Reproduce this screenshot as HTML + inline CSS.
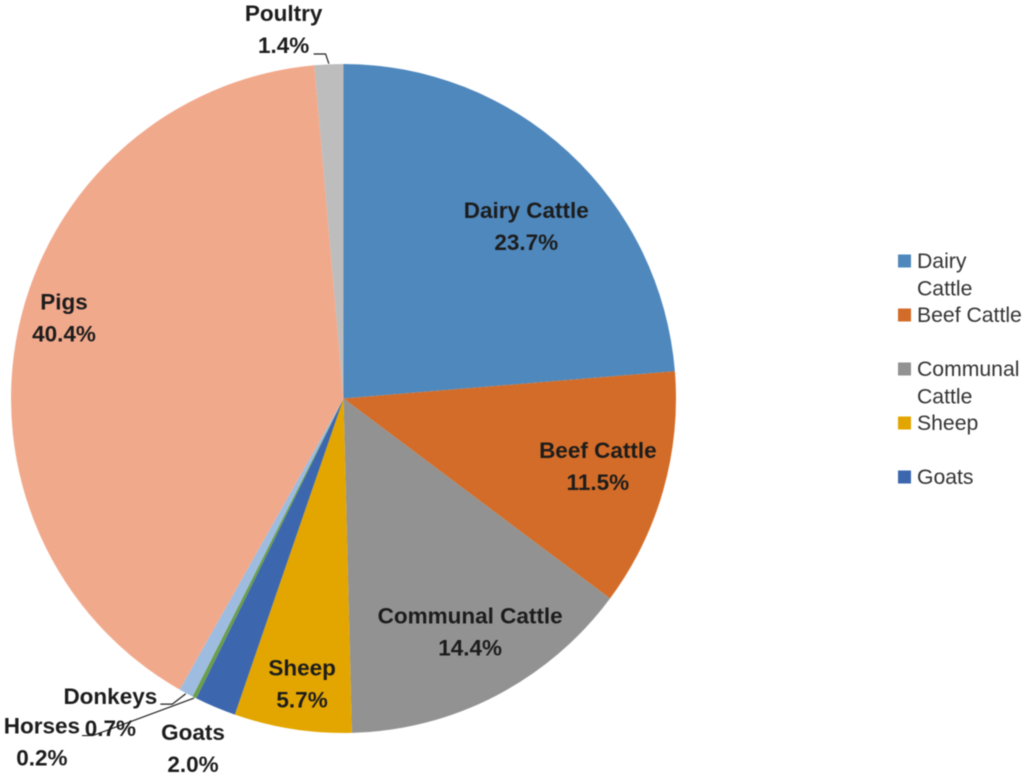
<!DOCTYPE html>
<html lang="en">
<head>
<meta charset="utf-8">
<title>Livestock share pie chart</title>
<style>
  html, body { margin: 0; padding: 0; background: #ffffff; }
  svg { display: block; filter: blur(0.4px); }
  text { font-family: "Liberation Sans", sans-serif; fill: #1c1c1c; }
  .data-label { font-size: 22.5px; font-weight: 700; text-anchor: middle; }
  .legend-text { font-size: 21.2px; fill: #333333; }
  .leader { fill: none; stroke: #222222; stroke-width: 1.2; }
</style>
</head>
<body>
<svg id="chart" width="1024" height="779" viewBox="0 0 1024 779" xmlns="http://www.w3.org/2000/svg"></svg>
<script>
const categories = ["Dairy Cattle", "Beef Cattle", "Communal Cattle", "Sheep", "Goats", "Horses", "Donkeys", "Pigs", "Poultry"];
const values = [23.7, 11.5, 14.4, 5.7, 2.0, 0.2, 0.7, 40.4, 1.4];
const colors = ["#4f88bd", "#d36c28", "#929292", "#e3a600", "#3c66ae", "#6a9e4a", "#9dbce0", "#f1a98c", "#bdbdbd"];
const legendCategories = ["Dairy Cattle", "Beef Cattle", "Communal Cattle", "Sheep", "Goats"];

const cx = 343.5, cy = 398.5, radiusX = 332.5, radiusY = 334.5;
const labelDistance = [0.75, 0.79, 0.80, 0.87, 1.147, 1.376, 1.178, 0.874, 1.12];
const labelTurn = [4.2, -0.8, -0.9, -0.5, 0.6, 14.6, 8.3, 3.6, -6.8];
const leaderOffsets = {
  Horses: [[51, -7], [40, -7]],
  Donkeys: [[62, -9], [50, -9]],
  Poultry: [[42, 24], [30, 24]]
};
const legendLayout = { x: 898, textX: 917, size: 13, top: 261, lineGap: 27.5, rowGap: 54 };

const svg = document.getElementById("chart");
const NS = "http://www.w3.org/2000/svg";
const total = values.reduce(function (a, b) { return a + b; }, 0);

function angleOf(cumulative) { return cumulative / total * 2 * Math.PI; }
function onPie(angle, scale) {
  return [cx + Math.sin(angle) * radiusX * scale, cy - Math.cos(angle) * radiusY * scale];
}
function labelPoint(angle, scale) {
  return [344 + Math.sin(angle) * 333 * scale, 398 - Math.cos(angle) * 333 * scale];
}
function slug(s) { return s.toLowerCase().replace(/\s+/g, "-"); }
function fmt(v) { return v.toFixed(1) + "%"; }

let running = 0;
categories.forEach(function (name, i) {
  const start = angleOf(running);
  running += values[i];
  const end = angleOf(running);
  const p0 = onPie(start, 1);
  const p1 = onPie(end, 1);
  const large = end - start > Math.PI ? 1 : 0;
  const slice = document.createElementNS(NS, "path");
  slice.setAttribute("d", "M" + cx + " " + cy + "L" + p0[0] + " " + p0[1] + "A" + radiusX + " " + radiusY + " 0 " + large + " 1 " + p1[0] + " " + p1[1] + "Z");
  slice.setAttribute("fill", colors[i]);
  
  
  svg.appendChild(slice);
});

running = 0;
categories.forEach(function (name, i) {
  const mid = angleOf(running + values[i] / 2);
  running += values[i];
  const pos = labelPoint(mid + labelTurn[i] * Math.PI / 180, labelDistance[i]);

  if (leaderOffsets[name]) {
    const edge = onPie(mid, 1.002);
    const o = leaderOffsets[name];
    const line = document.createElementNS(NS, "polyline");
    line.setAttribute("class", "leader");
    line.setAttribute("points", (pos[0] + o[1][0]) + "," + (pos[1] + o[1][1]) + " " + (pos[0] + o[0][0]) + "," + (pos[1] + o[0][1]) + " " + edge.join(","));
    
    
    svg.appendChild(line);
  }

  const nameText = document.createElementNS(NS, "text");
  nameText.setAttribute("class", "data-label");
  nameText.setAttribute("x", pos[0]);
  nameText.setAttribute("y", pos[1] - 9);
  nameText.textContent = name;
  
  
  svg.appendChild(nameText);

  const valueText = document.createElementNS(NS, "text");
  valueText.setAttribute("class", "data-label");
  valueText.setAttribute("x", pos[0]);
  valueText.setAttribute("y", pos[1] + 23);
  valueText.textContent = fmt(values[i]);
  
  
  svg.appendChild(valueText);
});

legendCategories.forEach(function (name, i) {
  const rowY = legendLayout.top + i * legendLayout.rowGap;
  const swatch = document.createElementNS(NS, "rect");
  swatch.setAttribute("x", legendLayout.x);
  swatch.setAttribute("y", rowY - legendLayout.size / 2);
  swatch.setAttribute("width", legendLayout.size);
  swatch.setAttribute("height", legendLayout.size);
  swatch.setAttribute("fill", colors[categories.indexOf(name)]);
  
  
  svg.appendChild(swatch);

  const words = name === "Beef Cattle" ? [name] : name.split(" ");
  words.forEach(function (word, j) {
    const t = document.createElementNS(NS, "text");
    t.setAttribute("class", "legend-text");
    t.setAttribute("x", legendLayout.textX);
    t.setAttribute("y", rowY + 7 + j * legendLayout.lineGap);
    t.textContent = word;
    
    
    svg.appendChild(t);
  });
});
</script>
</body>
</html>
